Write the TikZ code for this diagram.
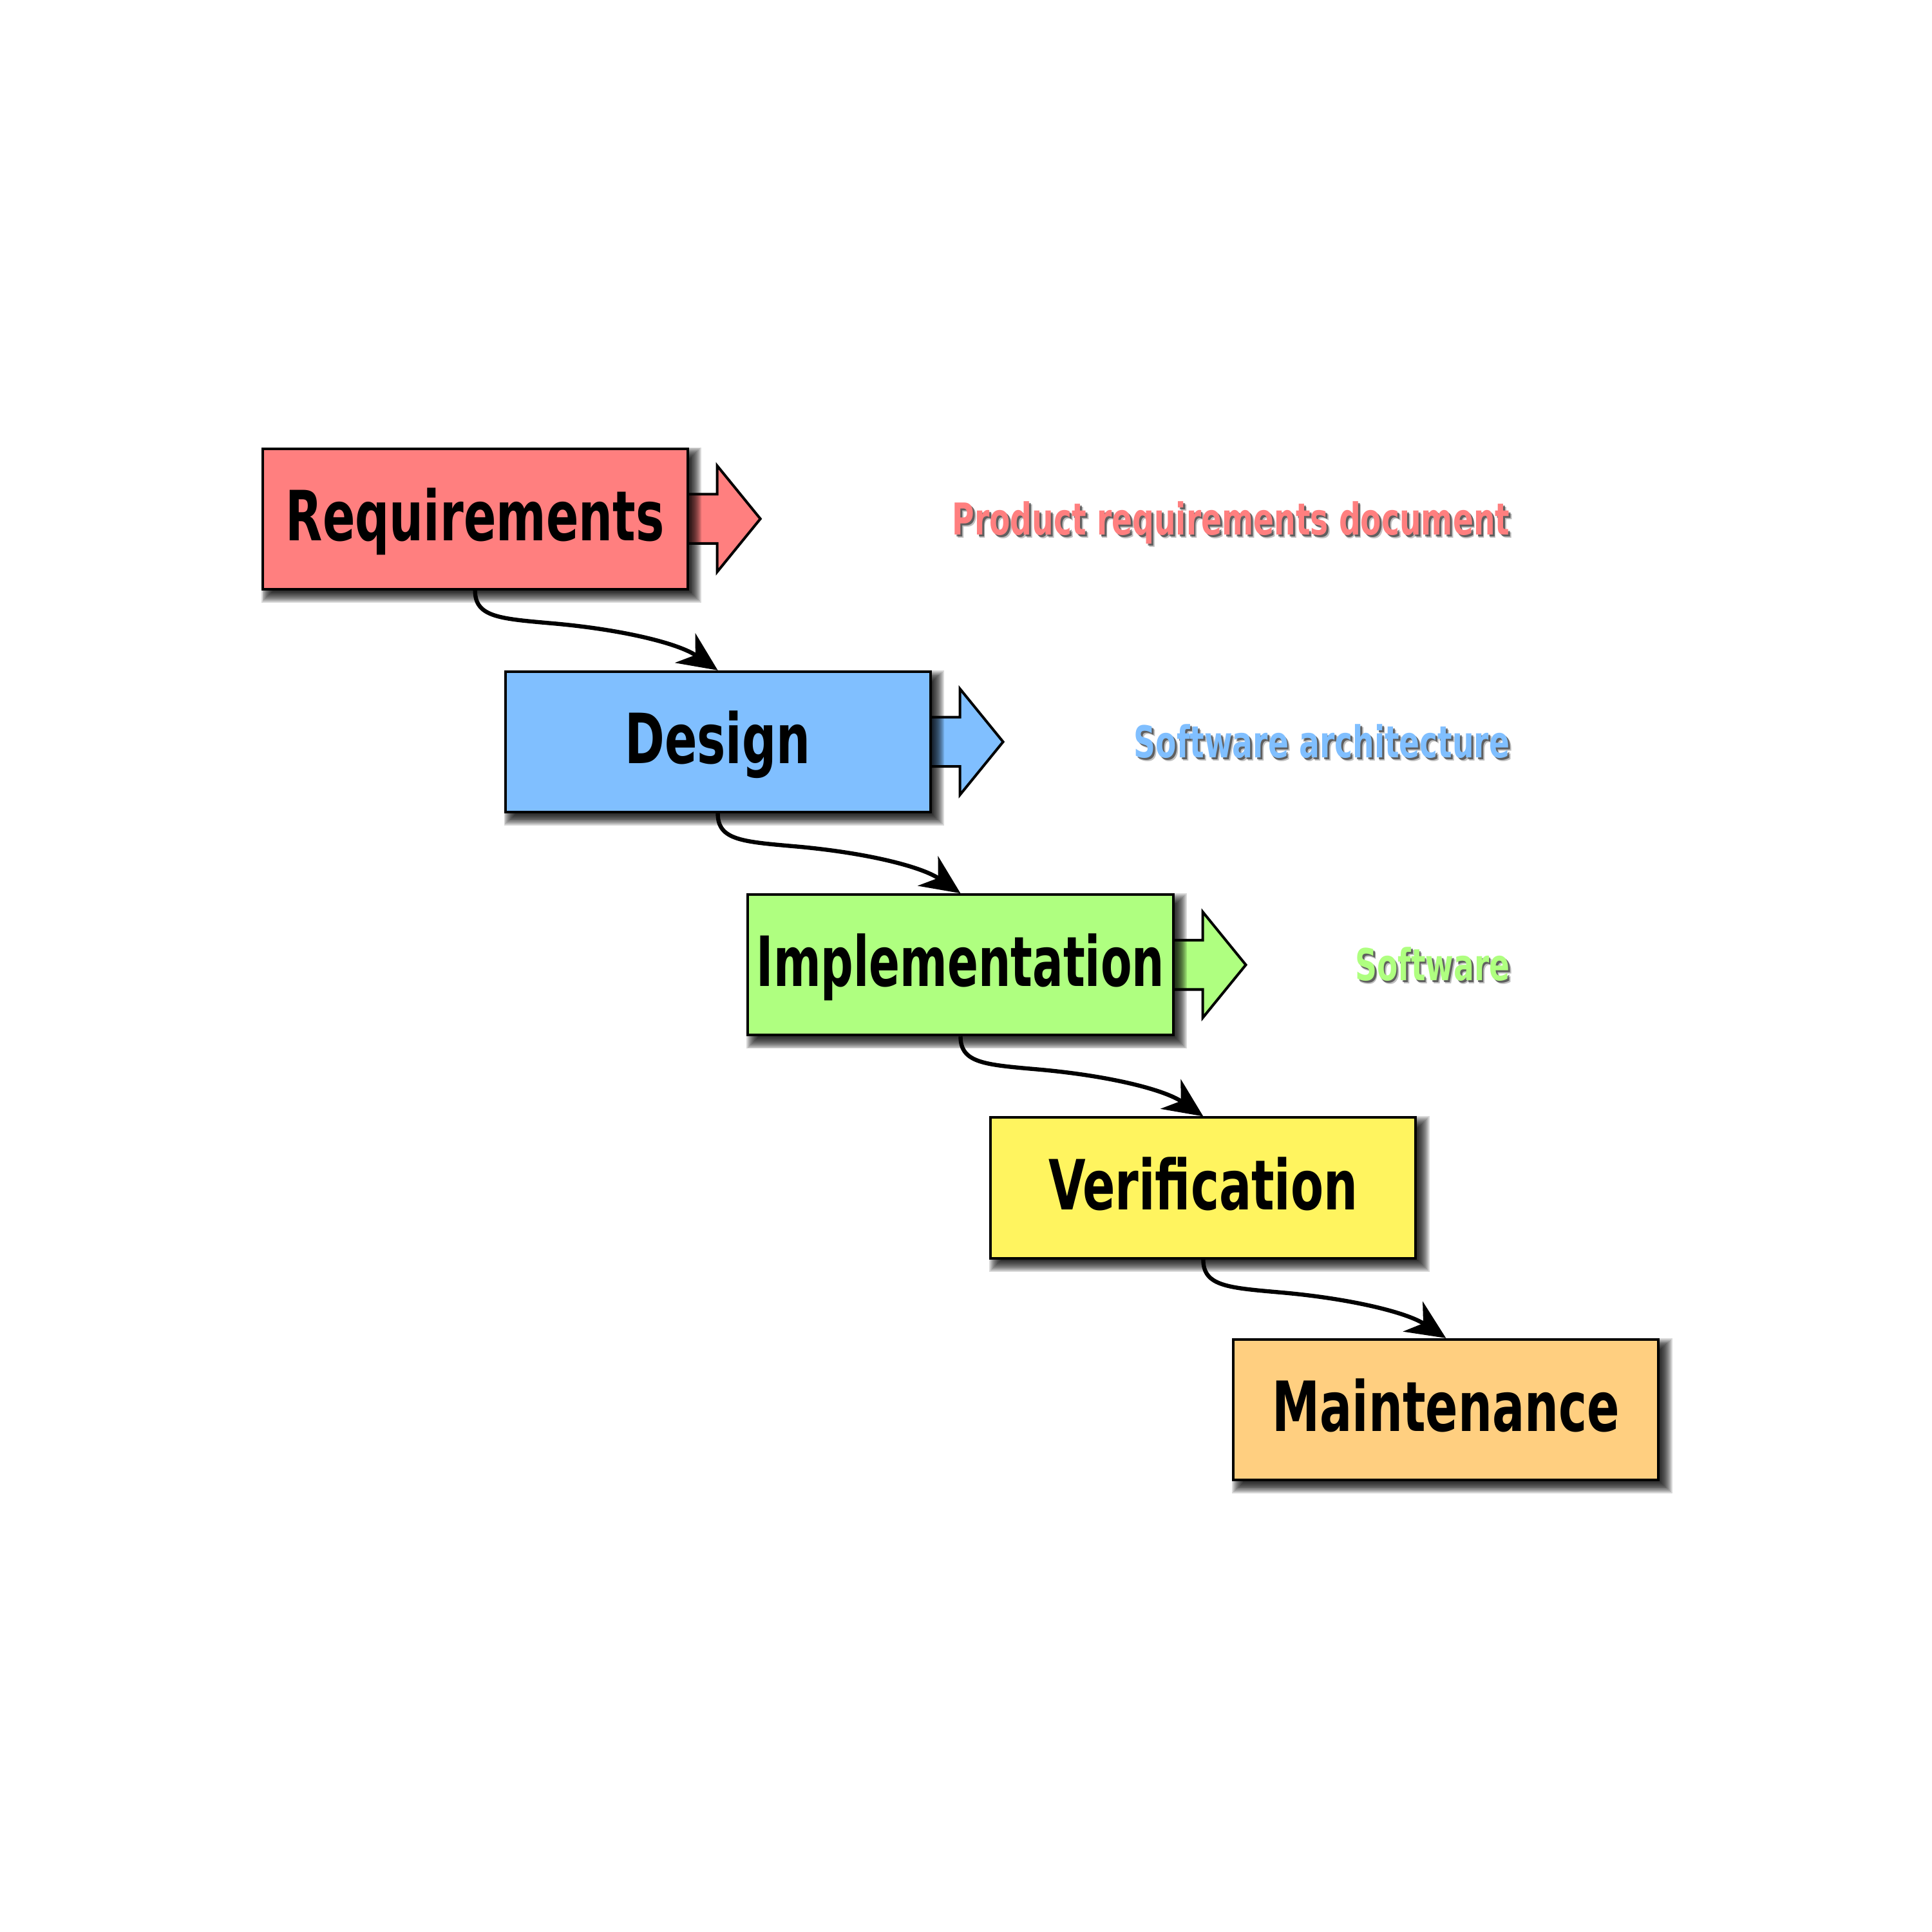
\documentclass[tikz,border=0pt]{standalone}
\usepackage{fontspec}
\usepackage{graphicx}
\setmainfont{DejaVu Sans Condensed}
\usetikzlibrary{calc,arrows.meta}

\definecolor{reqcol}{HTML}{FF7F7F}
\definecolor{descol}{HTML}{80BFFF}
\definecolor{impcol}{HTML}{AFFF80}
\definecolor{vercol}{HTML}{FFF45F}
\definecolor{maicol}{HTML}{FFCF80}

\pgfdeclarelayer{paperlayer}
\pgfdeclarelayer{arrowlayer}
\pgfdeclarelayer{shadowlayer}
\pgfsetlayers{paperlayer,arrowlayer,shadowlayer,main}

% tall condensed bold lettering
\newcommand\phasetext[2][1]{\scalebox{#1}[1.3]{\fontsize{12.3pt}{14pt}\selectfont\bfseries #2}}
\newcommand\outputtext[1]{\scalebox{1}[1.3]{\fontsize{7.8pt}{9pt}\selectfont\bfseries #1}}

% soft drop shadow under a phase box
\newcommand\phaseshadow[1]{%
  \begin{pgfonlayer}{shadowlayer}
    \foreach \r in {-5,-4,...,5}
      \fill[black, opacity=0.15]
        ($(#1.north west)+(5-\r,5-\r)$) rectangle ($(#1.south east)+(5+\r,5+\r)$);
  \end{pgfonlayer}}

% block arrow leaving a phase box to the right
\newcommand\outarrow[2]{%
  \begin{pgfonlayer}{arrowlayer}
    \filldraw[draw=black, line width=0.6pt, fill=#2]
      ($(#1.east)+(-2,-20)$) -- ($(#1.east)+(23,-20)$) -- ($(#1.east)+(23,-43)$)
      -- ($(#1.east)+(58,0)$) -- ($(#1.east)+(23,43)$) -- ($(#1.east)+(23,20)$)
      -- ($(#1.east)+(-2,20)$) -- cycle;
  \end{pgfonlayer}}

\begin{document}
\begin{tikzpicture}[x=0.1mm, y=-0.1mm,
  phase/.style={draw=black, line width=0.6pt, minimum width=34.5mm, minimum height=11.4mm,
    inner sep=0pt, anchor=north west, text height=4.3mm, text depth=0.8mm},
  flow/.style={line width=0.95pt, -{Stealth[length=3.2mm, width=2.9mm, inset=1.0mm]}},
  outlabel/.style={anchor=base east, inner sep=0pt},
  labelshade/.style={anchor=base east, inner sep=0pt, text=black}
]
\begin{pgfonlayer}{paperlayer}
  \fill[white] (0,0) rectangle (1568,1568);
\end{pgfonlayer}

% phases
\node[phase, fill=reqcol] (req) at (212,363)  {\phasetext{Requirements}};
\node[phase, fill=descol] (des) at (409,544)  {\phasetext{Design}};
\node[phase, fill=impcol] (imp) at (606,725)  {\phasetext[0.95]{Implementation}};
\node[phase, fill=vercol] (ver) at (803,906)  {\phasetext{Verification}};
\node[phase, fill=maicol] (mai) at (1000,1086) {\phasetext{Maintenance}};

\phaseshadow{req}
\phaseshadow{des}
\phaseshadow{imp}
\phaseshadow{ver}
\phaseshadow{mai}

\outarrow{req}{reqcol}
\outarrow{des}{descol}
\outarrow{imp}{impcol}

% flow between phases
\foreach \a/\b in {req/des, des/imp, imp/ver, ver/mai}
  \draw[flow] (\a.south) .. controls ($(\a.south)+(0,22)$) and ($(\a.south)+(20,23)$)
    .. ($(\a.south)+(65,27)$) .. controls ($(\a.south)+(120,32)$) and ($(\a.south)+(165,43)$)
    .. (\b.north);

% phase outputs
\node[labelshade, opacity=0.25] (prdsh1) at (1228.5,436.5) {\outputtext{Product requirements document}};
\node[labelshade, opacity=0.5] (prdsh2) at (1227.5,435.5) {\outputtext{Product requirements document}};
\node[outlabel, text=reqcol] (prd) at (1226,434) {\outputtext{Product requirements document}};

\node[labelshade, opacity=0.25] (archsh1) at (1228.5,617.5) {\outputtext{Software architecture}};
\node[labelshade, opacity=0.5] (archsh2) at (1227.5,616.5) {\outputtext{Software architecture}};
\node[outlabel, text=descol] (arch) at (1226,615) {\outputtext{Software architecture}};

\node[labelshade, opacity=0.25] (swsh1) at (1228.5,798.5) {\outputtext{Software}};
\node[labelshade, opacity=0.5] (swsh2) at (1227.5,797.5) {\outputtext{Software}};
\node[outlabel, text=impcol] (sw) at (1226,796) {\outputtext{Software}};
\end{tikzpicture}
\end{document}
